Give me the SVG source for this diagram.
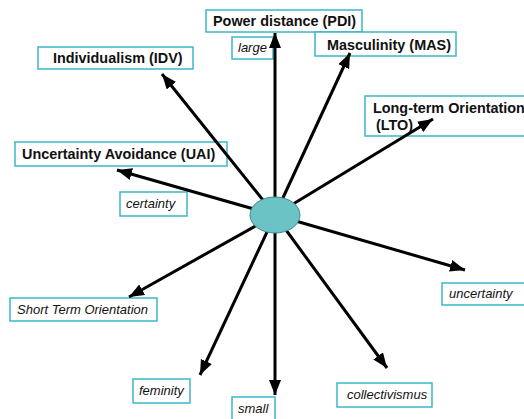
<svg xmlns="http://www.w3.org/2000/svg" width="524" height="419" viewBox="0 0 524 419">
<style>
.box{fill:#fff;stroke:#3db6c6;stroke-width:1.5}
.b{font-family:"Liberation Sans",Arial,sans-serif;font-weight:bold;font-size:14.4px;fill:#111}
.i{font-family:"Liberation Sans",Arial,sans-serif;font-style:italic;font-size:13px;fill:#111}
.c{stroke:#000;stroke-width:3;fill:none;marker-end:url(#ah)}
</style>
<defs>
<marker id="ah" markerUnits="userSpaceOnUse" markerWidth="17" markerHeight="13" refX="15" refY="6" orient="auto">
<path d="M0,0 L15,6 L0,12 z" fill="#000"/>
</marker>
</defs>
<rect width="524" height="419" fill="#fff"/>
<g id="pdi"><rect class="box" x="206" y="10" width="156" height="22"/><text class="b" x="213" y="26">Power distance (PDI)</text></g>
<g id="large"><rect class="box" x="232" y="37" width="41" height="22"/><text class="i" x="238" y="52">large</text></g>
<g id="mas"><rect class="box" x="315" y="32" width="141" height="24"/><text class="b" x="327" y="50">Masculinity (MAS)</text></g>
<g id="idv"><rect class="box" x="38" y="47" width="155" height="22"/><text class="b" x="53" y="63">Individualism (IDV)</text></g>
<g id="lto"><rect class="box" x="365" y="96" width="165" height="40"/><text class="b" x="373" y="113">Long-term Orientation</text><text class="b" x="376" y="130">(LTO)</text></g>
<g id="uai"><rect class="box" x="15" y="142" width="212" height="24"/><text class="b" x="22" y="159">Uncertainty Avoidance (UAI)</text></g>
<g id="certainty"><rect class="box" x="120" y="192" width="67" height="24"/><text class="i" x="126" y="208">certainty</text></g>
<g id="short"><rect class="box" x="10" y="298" width="147" height="23"/><text class="i" x="17" y="314">Short Term Orientation</text></g>
<g id="uncertainty"><rect class="box" x="442" y="283" width="90" height="22"/><text class="i" x="449" y="298">uncertainty</text></g>
<g id="feminity"><rect class="box" x="133" y="379" width="57" height="24"/><text class="i" x="139" y="395">feminity</text></g>
<g id="small"><rect class="box" x="232" y="397" width="43" height="26"/><text class="i" x="238" y="413">small</text></g>
<g id="collectivismus"><rect class="box" x="337" y="383" width="95" height="24"/><text class="i" x="347" y="399">collectivismus</text></g>
<g id="connectors">
<line class="c" x1="275" y1="215" x2="275" y2="33"/>
<line class="c" x1="275" y1="215" x2="350" y2="53"/>
<line class="c" x1="275" y1="215" x2="433" y2="119"/>
<line class="c" x1="275" y1="215" x2="162" y2="74"/>
<line class="c" x1="275" y1="215" x2="117" y2="170"/>
<line class="c" x1="275" y1="215" x2="129" y2="297"/>
<line class="c" x1="275" y1="215" x2="200" y2="375"/>
<line class="c" x1="275" y1="215" x2="275" y2="395"/>
<line class="c" x1="275" y1="215" x2="387" y2="368"/>
<line class="c" x1="275" y1="215" x2="465" y2="270"/>
</g>
<g id="center"><ellipse cx="275" cy="215" rx="25" ry="18" fill="#6cc3c6" stroke="#3f8a8e" stroke-width="1"/></g>
</svg>
